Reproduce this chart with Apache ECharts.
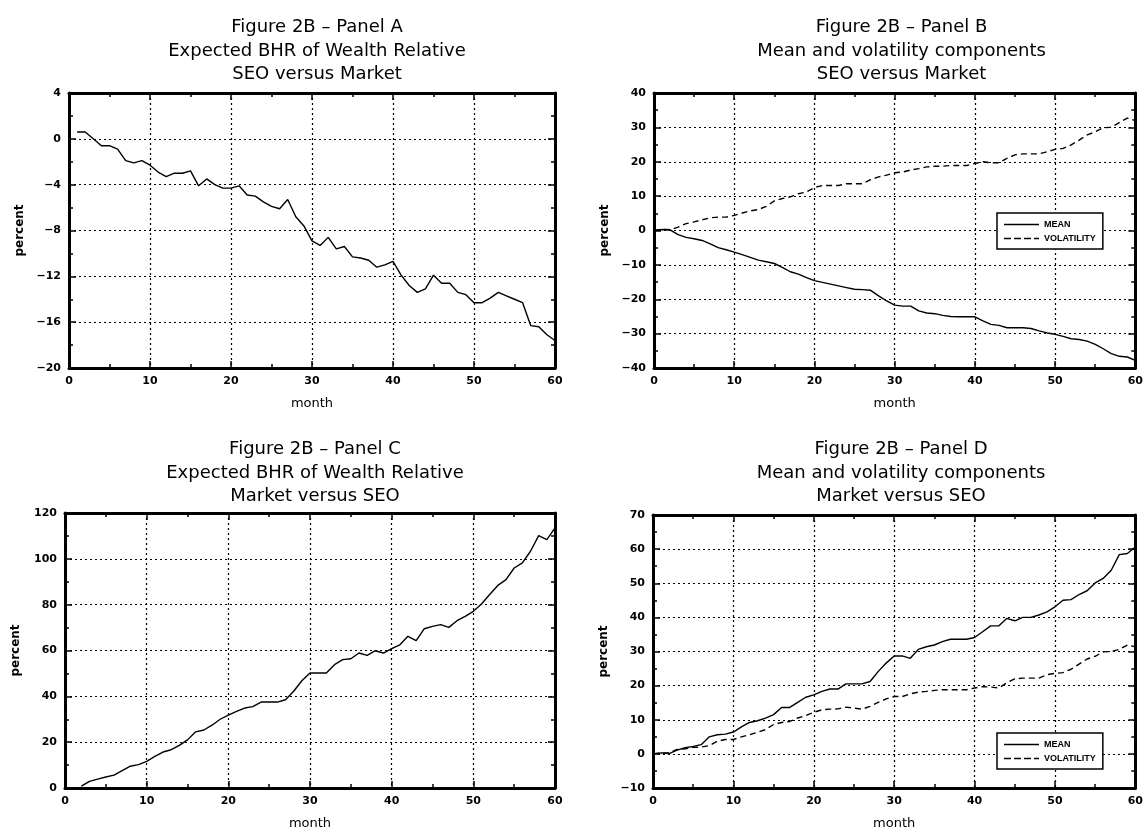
<!DOCTYPE html>
<html>
<head>
<meta charset="utf-8">
<script src="https://cdn.jsdelivr.net/npm/echarts@6/dist/echarts.min.js"></script>
<style>
html,body{margin:0;padding:0;background:#fff;}
#chart{width:1146px;height:831px;}
</style>
</head>
<body>
<div id="chart"></div>
<script>
// ---- data ----
const months = [0,1,2,3,4,5,6,7,8,9,10,11,12,13,14,15,16,17,18,19,20,21,22,23,24,25,26,27,28,29,30,
  31,32,33,34,35,36,37,38,39,40,41,42,43,44,45,46,47,48,49,50,51,52,53,54,55,56,57,58,59,60];

// Panel A: Expected BHR of wealth relative, SEO versus Market (starts month 1)
const bhrSeoVsMarket = [null,
  0.6,0.6,0.0,-0.6,-0.6,-0.9,-1.9,-2.1,-1.9,-2.3,
  -2.9,-3.3,-3.0,-3.0,-2.8,-4.1,-3.5,-4.0,-4.3,-4.3,
  -4.1,-4.9,-5.0,-5.5,-5.9,-6.1,-5.3,-6.8,-7.6,-8.9,
  -9.3,-8.6,-9.6,-9.4,-10.3,-10.4,-10.6,-11.2,-11.0,-10.7,
  -11.9,-12.8,-13.4,-13.1,-11.9,-12.6,-12.6,-13.4,-13.6,-14.3,
  -14.3,-13.9,-13.4,-13.7,-14.0,-14.3,-16.3,-16.4,-17.1,-17.6];

// Panel B: mean and volatility components, SEO versus Market
const meanSeoVsMarket = [0,0.3,0.2,-1.2,-2.0,-2.4,-2.9,-3.9,-5.0,-5.6,-6.3,
  -7.0,-7.8,-8.6,-9.1,-9.6,-10.7,-12.0,-12.7,-13.7,-14.6,
  -15.1,-15.6,-16.1,-16.6,-17.1,-17.2,-17.4,-19.0,-20.5,-21.7,
  -22.0,-22.0,-23.4,-24.0,-24.2,-24.7,-25.0,-25.1,-25.1,-25.1,
  -26.3,-27.3,-27.6,-28.3,-28.3,-28.3,-28.5,-29.2,-29.8,-30.2,
  -30.8,-31.5,-31.7,-32.2,-33.1,-34.4,-35.8,-36.6,-36.8,-37.8];
const volSeoVsMarket = [0,0.3,0.2,1.0,2.0,2.5,3.1,3.7,3.9,3.9,4.4,
  5.1,5.7,6.1,7.0,8.6,9.3,9.8,10.7,11.2,12.5,
  13.1,13.1,13.1,13.6,13.6,13.6,14.8,15.6,16.1,16.8,
  17.0,17.6,18.0,18.5,18.7,18.7,18.9,18.9,18.9,19.5,
  20.0,19.7,19.7,21.0,22.0,22.3,22.3,22.3,22.9,23.6,
  23.9,24.9,26.3,27.8,28.7,29.9,30.0,31.4,32.7,32.0];

// Panel C: Expected BHR of wealth relative, Market versus SEO (starts month 2)
const bhrMarketVsSeo = [null,null,
  0.8,2.9,3.9,4.8,5.6,7.6,9.5,10.2,11.6,
  13.8,15.7,16.7,18.6,21.0,24.5,25.3,27.4,30.0,31.8,
  33.4,34.9,35.5,37.5,37.5,37.5,38.5,42.2,46.8,50.2,
  50.2,50.2,53.8,56.0,56.4,58.9,57.9,59.9,58.9,60.8,
  62.5,66.2,64.3,69.5,70.5,71.3,70.1,73.0,74.9,77.1,
  80.3,84.4,88.4,90.9,96.0,98.2,103.3,110.1,108.4,113.5];

// Panel D: mean and volatility components, Market versus SEO
const meanMarketVsSeo = [0,0.3,0.1,1.1,1.8,2.2,2.7,5.0,5.6,5.8,6.4,
  7.9,9.2,9.7,10.5,11.5,13.6,13.6,15.1,16.6,17.3,
  18.3,19.0,19.0,20.5,20.5,20.5,21.2,24.1,26.6,28.7,
  28.7,28.0,30.6,31.4,31.9,32.9,33.6,33.6,33.6,34.1,
  35.8,37.5,37.5,39.7,39.0,40.0,40.0,40.7,41.6,43.1,
  45.0,45.2,46.7,47.8,50.1,51.4,53.8,58.4,58.7,60.6];
const volMarketVsSeo = [0,0.3,0.3,1.3,1.5,1.9,2.0,2.4,3.7,4.2,4.2,
  5.0,5.6,6.3,7.1,8.6,9.2,9.5,10.5,11.2,12.2,
  12.9,13.1,13.2,13.7,13.4,13.1,13.9,15.1,16.1,16.8,
  16.8,17.6,18.1,18.3,18.6,18.8,18.8,18.8,18.8,19.3,
  19.7,19.6,19.3,20.8,22.0,22.2,22.2,22.2,23.2,23.6,
  23.8,24.8,26.3,27.8,28.6,29.9,30.0,30.6,31.9,31.4];

const xTicks = {min:0, max:60, interval:10};
const yTicksA = {min:-20, max:4, interval:4};
const yTicksB = {min:-40, max:40, interval:10};
const yTicksC = {min:0, max:120, interval:20};
const yTicksD = {min:-10, max:70, interval:10};

const titleA = 'Figure 2B – Panel A\nExpected BHR of Wealth Relative\nSEO versus Market';
const titleB = 'Figure 2B – Panel B\nMean and volatility components\nSEO versus Market';
const titleC = 'Figure 2B – Panel C\nExpected BHR of Wealth Relative\nMarket versus SEO';
const titleD = 'Figure 2B – Panel D\nMean and volatility components\nMarket versus SEO';
const legendNames = ['MEAN', 'VOLATILITY'];

// ---- build ----
const FONT = 'DejaVu Sans';
function pairs(vals){ const out=[]; months.forEach((m,i)=>{ if(vals[i]!==null && vals[i]!==undefined) out.push([m, vals[i]]); }); return out; }
const minus = v => String(v).replace('-', '\u2212');

const panels = [
  {grid:{left:69,top:93,width:486,height:275}, y:yTicksA, title:titleA, tTop:11},
  {grid:{left:654,top:93,width:485,height:275}, y:yTicksB, title:titleB, tTop:11},
  {grid:{left:65,top:513,width:490,height:276}, y:yTicksC, title:titleC, tTop:433},
  {grid:{left:653,top:515,width:486,height:274}, y:yTicksD, title:titleD, tTop:433}
];

const grids=[], xAxes=[], yAxes=[], titles=[];
const lineCol = {color:'#000', width:3};
const tickStyle = {color:'#000', width:1.5};
panels.forEach((p,i)=>{
  grids.push(Object.assign({containLabel:false}, p.grid));
  titles.push({text:p.title, left:p.grid.left + p.grid.width/2, top:p.tTop, textAlign:'center',
    textStyle:{fontFamily:FONT, fontSize:18, fontWeight:'normal', color:'#000', lineHeight:23.5}});
  const base = {type:'value', gridIndex:i,
    axisLine:{show:true, onZero:false, lineStyle:lineCol},
    axisTick:{show:true, inside:true, length:7, lineStyle:tickStyle},
    minorTick:{show:true, splitNumber:2, length:4, lineStyle:tickStyle}};
  xAxes.push(Object.assign({}, base, xTicks, {position:'bottom',
    splitLine:{show:true, lineStyle:{color:'#000', type:[2,3], width:1.2}},
    axisLabel:{color:'#000', fontSize:11, fontWeight:'bold', fontFamily:FONT, margin:8},
    name:'month', nameLocation:'middle', nameGap:29,
    nameTextStyle:{color:'#000', fontSize:13, fontFamily:FONT}}));
  xAxes.push(Object.assign({}, base, xTicks, {position:'top', axisLabel:{show:false}, splitLine:{show:false}}));
  yAxes.push(Object.assign({}, base, p.y, {position:'left',
    splitLine:{show:true, lineStyle:{color:'#000', type:[2,3], width:1.2}},
    axisLabel:{color:'#000', fontSize:11, fontWeight:'bold', fontFamily:FONT, margin:8, formatter:minus},
    name:'percent', nameLocation:'middle', nameGap:43, nameRotate:90,
    nameTextStyle:{color:'#000', fontSize:12, fontWeight:'bold', fontFamily:FONT}}));
  yAxes.push(Object.assign({}, base, p.y, {position:'right', axisLabel:{show:false}, splitLine:{show:false}}));
});

function lineSeries(name, gi, vals, dashed){
  return {type:'line', name:name, xAxisIndex:gi*2, yAxisIndex:gi*2, data:pairs(vals),
    symbol:'none', showSymbol:false, animation:false, z:5,
    lineStyle:{color:'#000', width:1.4, type: dashed ? [6,4] : 'solid'}, itemStyle:{color:'#000'}};
}

const series = [
  lineSeries('A', 0, bhrSeoVsMarket, false),
  lineSeries(legendNames[0], 1, meanSeoVsMarket, false),
  lineSeries(legendNames[1], 1, volSeoVsMarket, true),
  lineSeries('C', 2, bhrMarketVsSeo, false),
  lineSeries(legendNames[0], 3, meanMarketVsSeo, false),
  lineSeries(legendNames[1], 3, volMarketVsSeo, true)
];

const solidIcon = 'path://M0,0H35V1.5H0Z';
const dashIcon = 'path://M0,0H7V1.5H0Z M10,0H17V1.5H10Z M20,0H27V1.5H20Z M30,0H35V1.5H30Z';
const legendBase = {
  data:[{name:legendNames[0], icon:solidIcon}, {name:legendNames[1], icon:dashIcon}],
  orient:'vertical', backgroundColor:'#fff', symbolKeepAspect:true,
  borderColor:'#000', borderWidth:1.5, padding:[7,7,6,7], itemGap:5, itemWidth:35, itemHeight:10,
  itemStyle:{color:'#000', borderWidth:0}, lineStyle:{width:0},
  textStyle:{color:'#000', fontSize:9, fontWeight:'bold', fontFamily:'Liberation Sans'}, selectedMode:false, z:10};
const legends = [
  Object.assign({}, legendBase, {left:997, top:213}),
  Object.assign({}, legendBase, {left:997, top:733})
];

const chart = echarts.init(document.getElementById('chart'), null, {renderer:'canvas'});
chart.setOption({
  backgroundColor:'#fff', animation:false,
  title:titles, grid:grids, xAxis:xAxes, yAxis:yAxes, legend:legends, series:series
});
</script>
</body>
</html>
